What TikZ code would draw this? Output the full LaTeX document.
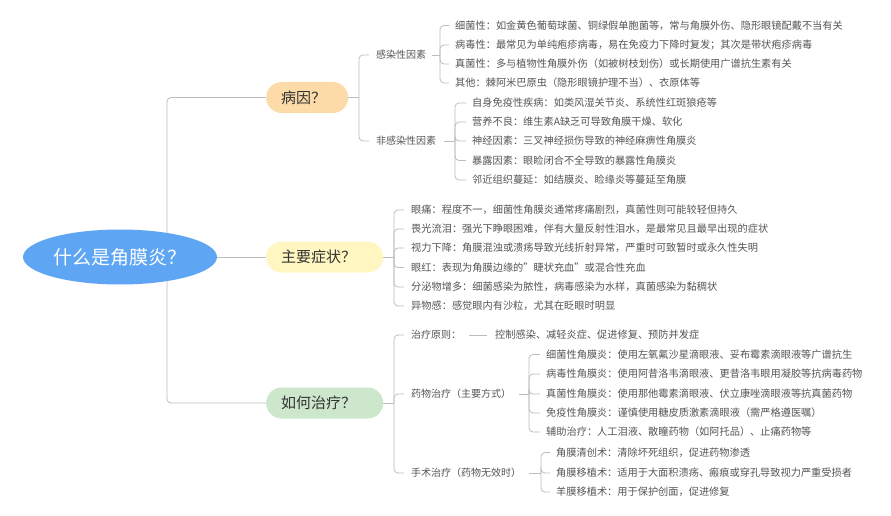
\documentclass[tikz,border=0pt]{standalone}
\usepackage{fontspec}
\setmainfont{Noto Sans CJK SC}
\usetikzlibrary{shapes.geometric,backgrounds}
\definecolor{linegray}{HTML}{BDBDBD}
\definecolor{leafc}{HTML}{555555}
\definecolor{topicc}{HTML}{333333}
\definecolor{rootfill}{HTML}{5EA6F3}
\definecolor{byfill}{HTML}{FDDBA9}
\definecolor{zzfill}{HTML}{FFF6C2}
\definecolor{zlfill}{HTML}{CCE7CB}
\begin{document}
\begin{tikzpicture}[x=1pt,y=-1pt,
  leaf/.style={anchor=west, inner sep=0pt, font=\fontsize{10.2}{12}\selectfont, text=leafc, text height=9.2pt, text depth=1.4pt},
  midlabel/.style={leaf, font=\fontsize{10}{12}\selectfont},
  topic/.style={anchor=west, rounded corners=15.5pt, minimum height=31pt, inner xsep=15pt, inner ysep=0pt, align=left, font=\fontsize{15}{18}\selectfont, text=topicc},
  rootnode/.style={ellipse, fill=rootfill, minimum width=194pt, minimum height=55pt, inner sep=0pt, text=white, font=\fontsize{19}{22}\selectfont},
  link/.style={draw=linegray, line width=0.8pt, rounded corners=4pt}]
\useasboundingbox (0,0) rectangle (891,516);

% main nodes
\node[rootnode] (root) at (120,257) {什么是角膜炎？\hspace{9pt}};
\node[topic, fill=byfill, text width=52pt] (by) at (266,97.5) {病因？};
\node[topic, fill=zzfill, text width=87pt] (zz) at (266,257) {主要症状？};
\node[topic, fill=zlfill, text width=87pt] (zl) at (266,403) {如何治疗？};
\coordinate (trunk) at (167,257);

% bracket x positions
\coordinate (bBY) at (359,0);
\coordinate (bGR) at (440,0);
\coordinate (bFG) at (455,0);
\coordinate (bZZ) at (394,0);
\coordinate (bZL) at (394,0);
\coordinate (bYW) at (529,0);
\coordinate (bSS) at (541,0);

% cause group
\node[midlabel] (gr) at (376,55) {感染性因素};
\node[midlabel] (fg) at (376,141) {非感染性因素};

\node[leaf] (a1) at (455,25.5) {细菌性：如金黄色葡萄球菌、铜绿假单胞菌等，常与角膜外伤、隐形眼镜配戴不当有关};
\node[leaf] (a2) at (455,45) {病毒性：最常见为单纯疱疹病毒，易在免疫力下降时复发；其次是带状疱疹病毒};
\node[leaf] (a3) at (455,64) {真菌性：多与植物性角膜外伤（如被树枝划伤）或长期使用广谱抗生素有关};
\node[leaf] (a4) at (455,83) {其他：棘阿米巴原虫（隐形眼镜护理不当）、衣原体等};

\node[leaf] (b1) at (472,103) {自身免疫性疾病：如类风湿关节炎、系统性红斑狼疮等};
\node[leaf] (b2) at (472,122) {营养不良：维生素A缺乏可导致角膜干燥、软化};
\node[leaf] (b3) at (472,141) {神经因素：三叉神经损伤导致的神经麻痹性角膜炎};
\node[leaf] (b4) at (472,160.5) {暴露因素：眼睑闭合不全导致的暴露性角膜炎};
\node[leaf] (b5) at (472,180) {邻近组织蔓延：如结膜炎、睑缘炎等蔓延至角膜};

% symptoms
\node[leaf] (c1) at (411,210) {眼痛：程度不一，细菌性角膜炎通常疼痛剧烈，真菌性则可能较轻但持久};
\node[leaf] (c2) at (411,229) {畏光流泪：强光下睁眼困难，伴有大量反射性泪水，是最常见且最早出现的症状};
\node[leaf] (c3) at (411,248) {视力下降：角膜混浊或溃疡导致光线折射异常，严重时可致暂时或永久性失明};
\node[leaf] (c4) at (411,267.5) {眼红：表现为角膜边缘的"睫状充血"或混合性充血};
\node[leaf] (c5) at (411,287) {分泌物增多：细菌感染为脓性，病毒感染为水样，真菌感染为黏稠状};
\node[leaf] (c6) at (411,306) {异物感：感觉眼内有沙粒，尤其在眨眼时明显};

% treatment
\node[midlabel] (d1) at (411,335) {治疗原则：};
\node[midlabel] (d2) at (411,394) {药物治疗（主要方式）};
\node[midlabel] (d3) at (411,473) {手术治疗（药物无效时）};
\node[leaf] (e0) at (495,335) {控制感染、减轻炎症、促进修复、预防并发症};

\node[leaf] (e1) at (546,354.5) {细菌性角膜炎：使用左氧氟沙星滴眼液、妥布霉素滴眼液等广谱抗生};
\node[leaf] (e2) at (546,374) {病毒性角膜炎：使用阿昔洛韦滴眼液、更昔洛韦眼用凝胶等抗病毒药物};
\node[leaf] (e3) at (546,394) {真菌性角膜炎：使用那他霉素滴眼液、伏立康唑滴眼液等抗真菌药物};
\node[leaf] (e4) at (546,413) {免疫性角膜炎：谨慎使用糖皮质激素滴眼液（需严格遵医嘱）};
\node[leaf] (e5) at (546,432) {辅助治疗：人工泪液、散瞳药物（如阿托品）、止痛药物等};

\node[leaf] (f1) at (556,452.5) {角膜清创术：清除坏死组织，促进药物渗透};
\node[leaf] (f2) at (556,473) {角膜移植术：适用于大面积溃疡、瘢痕或穿孔导致视力严重受损者};
\node[leaf] (f3) at (556,492) {羊膜移植术：用于保护创面，促进修复};

\begin{scope}[on background layer]
\fill[white] (0,0) rectangle (891,516);
% trunk
\draw[link] (root.east) -- (zz.west);
\draw[link] (trunk) |- (by.west);
\draw[link] (trunk) |- (zl.west);
% cause
\draw[link] (by.east) -- (by.east -| bBY);
\foreach \c in {gr,fg} \draw[link] (by.east -| bBY) |- ([xshift=-7pt]\c.west);
\draw[link] ([xshift=6pt]gr.east) -- (gr.east -| bGR);
\foreach \c in {a1,a2,a3,a4} \draw[link] (gr.east -| bGR) |- ([xshift=-6pt]\c.west);
\draw[link] ([xshift=8pt]fg.east) -- (fg.east -| bFG);
\foreach \c in {b1,b2,b3,b4,b5} \draw[link] (fg.east -| bFG) |- ([xshift=-6pt]\c.west);
% symptoms
\draw[link] (zz.east) -- (zz.east -| bZZ);
\foreach \c in {c1,c2,c3,c4,c5,c6} \draw[link] (zz.east -| bZZ) |- ([xshift=-7pt]\c.west);
% treatment
\draw[link] (zl.east) -- (zl.east -| bZL);
\foreach \c in {d1,d2,d3} \draw[link] (zl.east -| bZL) |- ([xshift=-7pt]\c.west);
\draw[link] ([xshift=8pt]d1.east) -- ([xshift=-8pt]e0.west);
\draw[link] ([xshift=8pt]d2.east) -- (d2.east -| bYW);
\foreach \c in {e1,e2,e3,e4,e5} \draw[link] (d2.east -| bYW) |- ([xshift=-6pt]\c.west);
\draw[link] ([xshift=8pt]d3.east) -- (d3.east -| bSS);
\foreach \c in {f1,f2,f3} \draw[link] (d3.east -| bSS) |- ([xshift=-6pt]\c.west);
\end{scope}
\end{tikzpicture}
\end{document}
